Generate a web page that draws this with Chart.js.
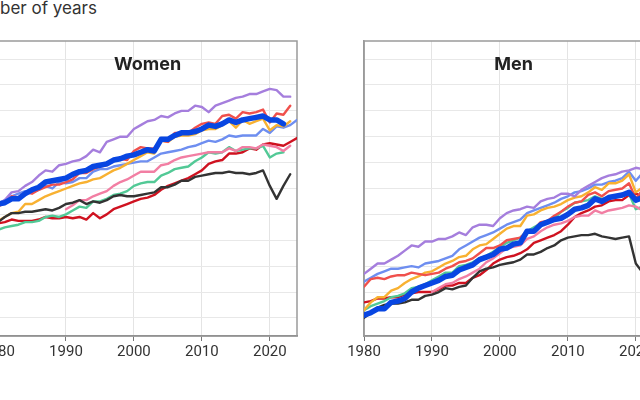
<!DOCTYPE html>
<html>
<head>
<meta charset="utf-8">
<script src="https://cdn.jsdelivr.net/npm/chart.js@4.4.1/dist/chart.umd.min.js"></script>
<style>
  html, body { margin: 0; padding: 0; background: #fff; width: 640px; height: 400px; overflow: hidden; }
  #title { position: absolute; top: -2px; font: 17px Inter, "Noto Sans", sans-serif; color: #333; white-space: nowrap; line-height: 1.2; }
  .panel { position: absolute; top: 0; width: 349px; height: 400px; }
</style>
</head>
<body>
<div id="title">Number of years</div>
<div class="panel" style="left:-27px"><canvas id="women"></canvas></div>
<div class="panel" style="left:339px"><canvas id="men"></canvas></div>
<script>
// Life expectancy at birth, 1980 onwards
const years = [1980,1981,1982,1983,1984,1985,1986,1987,1988,1989,1990,1991,1992,1993,1994,1995,1996,1997,1998,1999,
               2000,2001,2002,2003,2004,2005,2006,2007,2008,2009,2010,2011,2012,2013,2014,2015,2016,2017,2018,2019,
               2020,2021,2022,2023,2024];
const xTicks = [1980, 1990, 2000, 2010, 2020];
const yTicks = [70, 72, 74, 76, 78, 80, 82, 84, 86, 88, 90];

// Women
const franceW  = [78.8,78.9,79.2,79.2,79.6,79.9,80.1,80.5,80.6,80.7,80.8,81.1,81.3,81.4,81.7,81.8,81.9,82.2,82.3,82.5,82.6,82.8,83.0,82.9,83.8,83.8,84.1,84.3,84.3,84.4,84.6,84.9,84.8,85.0,85.3,85.1,85.3,85.4,85.5,85.6,85.3,85.3,85.0];
const usaW     = [77.4,77.8,78.1,78.1,78.2,78.2,78.3,78.4,78.3,78.5,78.8,78.9,79.1,78.8,79.0,78.9,79.1,79.4,79.5,79.4,79.4,79.5,79.6,79.7,80.1,80.1,80.3,80.6,80.6,80.9,81.0,81.1,81.2,81.2,81.3,81.2,81.2,81.1,81.2,81.4,80.2,79.2,80.2,81.1];
const japanW   = [78.8,79.1,79.7,79.8,80.2,80.5,81.0,81.4,81.3,81.8,81.9,82.1,82.2,82.5,83.0,82.8,83.6,83.8,84.0,84.0,84.6,84.9,85.2,85.3,85.6,85.5,85.8,86.0,86.0,86.4,86.3,85.9,86.4,86.6,86.8,87.0,87.1,87.3,87.3,87.5,87.7,87.6,87.1,87.1];
const spainW   = [78.6,78.9,79.4,79.3,79.7,79.6,79.9,80.1,80.3,80.3,80.5,80.7,81.2,81.2,81.5,81.7,81.8,82.1,82.3,82.2,82.9,83.2,83.1,83.1,83.7,83.6,84.3,84.3,84.3,84.7,85.0,85.1,85.0,85.6,85.7,85.4,85.9,85.8,85.9,86.1,85.1,85.8,85.7,86.4];
const italyW   = [77.5,77.8,78.1,78.2,78.8,78.8,79.1,79.4,79.6,79.8,80.0,80.2,80.4,80.5,80.7,80.8,81.1,81.4,81.6,81.9,82.2,82.5,82.8,82.7,83.7,83.6,84.0,84.1,84.1,84.2,84.5,84.6,84.6,84.9,85.2,84.7,85.3,85.0,85.2,85.4,84.5,84.9,84.8,85.2];
const swedenW  = [78.8,79.1,79.4,79.6,79.8,79.7,79.9,80.2,80.0,80.5,80.4,80.5,80.8,80.8,81.3,81.5,81.5,81.7,81.8,81.9,82.0,82.1,82.1,82.4,82.7,82.8,82.9,83.0,83.2,83.3,83.5,83.7,83.6,83.8,84.1,84.0,84.1,84.1,84.1,84.6,84.3,84.8,84.7,84.9,85.3];
const germanyW = [null,null,null,null,null,null,null,null,null,null,78.4,78.7,79.1,79.1,79.4,79.6,79.8,80.2,80.5,80.7,81.0,81.3,81.3,81.3,81.8,81.9,82.2,82.4,82.5,82.6,82.7,82.8,82.8,82.8,83.1,82.9,83.2,83.2,83.1,83.4,83.3,83.2,82.9,83.3];
const ukW      = [76.8,77.0,77.1,77.2,77.4,77.4,77.5,77.8,77.9,77.8,78.0,78.3,78.6,78.5,79.0,79.0,79.2,79.5,79.6,79.8,80.2,80.4,80.5,80.5,81.0,81.2,81.5,81.6,81.7,82.1,82.4,82.8,82.7,82.8,83.2,82.9,83.0,83.1,83.1,83.3,82.4,82.7,82.8];
const denmarkW = [77.3,77.4,77.6,77.5,77.5,77.5,77.6,77.8,77.7,77.7,77.8,77.7,77.8,77.6,78.1,77.7,78.0,78.4,78.6,78.8,79.0,79.2,79.3,79.5,79.9,80.2,80.4,80.6,80.8,81.1,81.4,81.9,82.1,82.2,82.7,82.7,82.8,83.1,83.0,83.4,83.5,83.4,83.3,83.6,83.9];

// Men
const franceM  = [70.2,70.4,70.7,70.7,71.2,71.3,71.5,72.0,72.3,72.5,72.7,72.9,73.2,73.3,73.7,73.9,74.1,74.5,74.7,74.9,75.3,75.4,75.7,75.8,76.7,76.7,77.2,77.4,77.6,77.7,78.0,78.4,78.5,78.7,79.2,79.0,79.3,79.4,79.5,79.7,79.1,79.3,79.3];
const usaM     = [70.0,70.4,70.8,71.0,71.1,71.1,71.2,71.4,71.4,71.7,71.8,72.0,72.3,72.2,72.4,72.5,73.1,73.6,73.8,73.9,74.1,74.2,74.3,74.5,74.9,74.9,75.1,75.4,75.6,76.0,76.2,76.3,76.4,76.4,76.5,76.3,76.2,76.1,76.2,76.3,74.2,73.5,74.8,75.8];
const japanM   = [73.4,73.8,74.2,74.2,74.5,74.8,75.2,75.6,75.5,75.9,75.9,76.1,76.1,76.3,76.6,76.4,77.0,77.2,77.2,77.1,77.7,78.1,78.3,78.4,78.6,78.5,79.0,79.2,79.3,79.6,79.6,79.4,79.9,80.2,80.5,80.8,81.0,81.1,81.3,81.4,81.6,81.5,81.1,81.1];
const spainM   = [72.4,73.0,73.1,73.0,73.2,73.3,73.3,73.5,73.4,73.3,73.4,73.5,73.8,74.0,74.3,74.4,74.6,75.0,75.4,75.4,75.6,76.0,76.1,76.2,76.7,76.8,77.4,77.5,77.9,78.2,78.6,78.9,79.0,79.5,79.7,79.4,79.8,79.9,80.0,80.4,79.2,79.9,80.0,80.7];
const italyM   = [70.6,71.2,71.6,71.6,72.1,72.3,72.7,73.0,73.2,73.5,73.6,73.9,74.2,74.4,74.7,74.8,75.3,75.6,75.7,76.1,76.5,76.9,77.1,77.1,77.9,78.0,78.3,78.5,78.6,78.8,79.1,79.3,79.4,79.7,80.1,79.9,80.4,80.4,80.6,81.1,79.7,80.1,80.5,81.1];
const swedenM  = [72.8,73.1,73.4,73.6,73.8,73.8,73.9,74.0,73.9,74.2,74.3,74.4,74.6,74.8,75.3,75.6,75.9,76.2,76.4,76.6,76.9,77.2,77.4,77.6,78.1,78.3,78.5,78.7,78.9,79.2,79.4,79.7,79.8,80.0,80.3,80.3,80.5,80.6,80.8,81.3,80.6,81.2,81.3,81.6,81.9];
const germanyM = [null,null,null,null,null,null,null,null,null,null,72.0,72.3,72.6,72.7,73.0,73.2,73.5,73.8,74.3,74.6,75.0,75.4,75.5,75.6,76.1,76.3,76.7,77.0,77.2,77.3,77.5,77.8,77.9,77.9,78.3,78.1,78.3,78.4,78.5,78.7,78.6,78.3,78.2,78.6];
const ukM      = [70.6,70.9,71.1,71.3,71.6,71.7,71.9,72.3,72.4,72.6,72.9,73.2,73.5,73.5,74.0,74.1,74.3,74.6,74.8,75.1,75.5,75.8,76.0,76.2,76.7,77.0,77.3,77.5,77.7,78.2,78.5,78.9,79.0,79.1,79.4,79.2,79.3,79.4,79.4,79.6,78.4,78.6,78.6];
const denmarkM = [71.2,71.3,71.5,71.5,71.6,71.6,71.8,71.9,72.0,72.0,72.0,72.2,72.5,72.5,72.7,72.7,73.1,73.3,73.7,74.2,74.5,74.7,74.8,75.0,75.3,75.8,76.0,76.2,76.4,76.7,77.2,77.8,78.1,78.3,78.6,78.7,79.0,79.1,79.1,79.5,79.6,79.4,79.2,79.6,79.9];

// colour, width per country (first one is drawn on top)
const countries = [
    { name: 'France',  color: '#0846e2', width: 5.5 },
    { name: 'USA',     color: '#333333', width: 2.4 },
    { name: 'Japan',   color: '#a57edd', width: 2.4 },
    { name: 'Spain',   color: '#f0504c', width: 2.4 },
    { name: 'Italy',   color: '#f8b131', width: 2.4 },
    { name: 'Sweden',  color: '#6e8ef0', width: 2.4 },
    { name: 'Germany', color: '#f27ea3', width: 2.4 },
    { name: 'UK',      color: '#52c996', width: 2.4 },
    { name: 'Denmark', color: '#cf1220', width: 2.4 }
];
const womenData = [franceW, usaW, japanW, spainW, italyW, swedenW, germanyW, ukW, denmarkW];
const menData   = [franceM, usaM, japanM, spainM, italyM, swedenM, germanyM, ukM, denmarkM];

// box round the plot + panel heading inside it
const panelPlugin = {
    id: 'panel',
    beforeDatasetsDraw(chart, args, opts) {
        const { ctx, chartArea: a } = chart;
        ctx.save();
        ctx.strokeStyle = '#9a9a9a';
        ctx.lineWidth = 1.5;
        ctx.strokeRect(a.left, a.top, a.right - a.left, a.bottom - a.top);
        ctx.font = 'bold 18px Inter, "Noto Sans", sans-serif';
        ctx.fillStyle = '#222';
        ctx.textAlign = 'center';
        ctx.textBaseline = 'middle';
        ctx.fillText(opts.text, (a.left + a.right) / 2, 65);
        ctx.restore();
    }
};

function makePanel(canvasId, heading, seriesList) {
    const datasets = countries.map((c, i) => ({
        label: c.name,
        data: seriesList[i].map((v, j) => ({ x: years[j], y: v })),
        borderColor: c.color,
        borderWidth: c.width,
        pointRadius: 0,
        tension: 0,
        spanGaps: false,
        borderJoinStyle: 'round',
        borderCapStyle: 'round'
    }));

    return new Chart(document.getElementById(canvasId), {
        type: 'line',
        data: { datasets },
        options: {
            responsive: true,
            maintainAspectRatio: false,
            animation: false,
            layout: { padding: { left: 25, right: 25, top: 41, bottom: 34 } },
            plugins: {
                legend: { display: false },
                tooltip: { enabled: false },
                panel: { text: heading }
            },
            scales: {
                x: {
                    type: 'linear',
                    min: 1980,
                    max: 2024,
                    afterBuildTicks: s => { s.ticks = xTicks.map(v => ({ value: v })); },
                    afterFit: s => { s.height = 30; },
                    ticks: {
                        color: '#333',
                        font: { family: 'Roboto', size: 15 },
                        padding: 2,
                        maxRotation: 0,
                        callback: v => String(v)
                    },
                    grid: { color: '#e4e4e4', tickColor: '#777', tickLength: 5, lineWidth: 1 },
                    border: { color: '#777', width: 1.5 }
                },
                y: {
                    min: 68.6,
                    max: 91.4,
                    afterBuildTicks: s => { s.ticks = yTicks.map(v => ({ value: v })); },
                    afterFit: s => { s.width = 0; },
                    ticks: { display: false },
                    grid: { color: '#e8e8e8', drawTicks: false, lineWidth: 1 },
                    border: { color: '#9a9a9a', width: 1.5 }
                }
            }
        },
        plugins: [panelPlugin]
    });
}

makePanel('women', 'Women', womenData);
makePanel('men', 'Men', menData);

// the heading starts left of the picture: only "ber of years" shows
const t = document.getElementById('title');
const m = document.createElement('canvas').getContext('2d');
m.font = getComputedStyle(t).font;
t.style.left = (-m.measureText('Num').width) + 'px';
</script>
</body>
</html>
